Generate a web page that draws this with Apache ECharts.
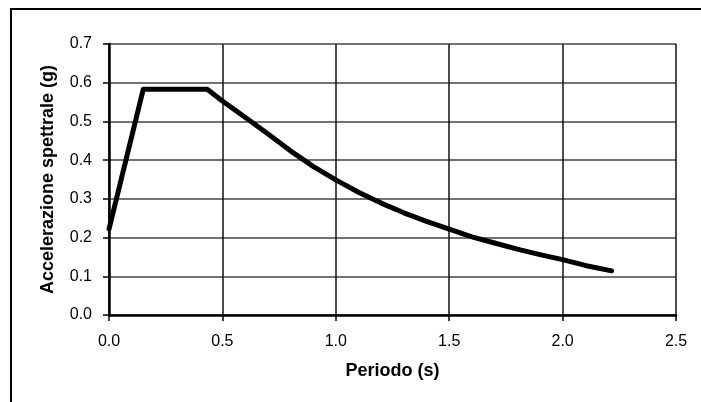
<!DOCTYPE html>
<html>
<head>
<meta charset="utf-8">
<script src="https://cdn.jsdelivr.net/npm/echarts@6/dist/echarts.min.js"></script>
<style>
html,body{margin:0;padding:0;background:#fff;}
#chart{width:701px;height:402px;}
</style>
</head>
<body>
<div id="chart"></div>
<script>
// Period (s)
var periods = [0.0, 0.151, 0.433, 0.5, 0.6, 0.7, 0.8, 0.9, 1.0, 1.1, 1.2, 1.3, 1.4, 1.5, 1.6, 1.7, 1.8, 1.9, 2.0, 2.1, 2.216];
// Spectral acceleration (g)
var accel = [0.222, 0.583, 0.583, 0.553, 0.511, 0.468, 0.424, 0.384, 0.349, 0.317, 0.289, 0.264, 0.242, 0.222, 0.202, 0.186, 0.170, 0.156, 0.143, 0.128, 0.114];
var xTicks = [0.0, 0.5, 1.0, 1.5, 2.0, 2.5];
var yTicks = [0.0, 0.1, 0.2, 0.3, 0.4, 0.5, 0.6, 0.7];
var xTitle = 'Periodo (s)';
var yTitle = 'Accelerazione spettrale (g)';

var seriesData = periods.map(function (t, i) { return [t, accel[i]]; });
var font = '"Liberation Sans", Arial, sans-serif';

var chart = echarts.init(document.getElementById('chart'), null, {renderer: 'canvas'});
chart.setOption({
  animation: false,
  backgroundColor: '#ffffff',
  grid: {left: 109, top: 44, width: 567, height: 271, containLabel: false},
  graphic: [{
    type: 'rect',
    shape: {x: 11, y: 9, width: 720, height: 420},
    style: {fill: 'none', stroke: '#000', lineWidth: 2}
  }],
  xAxis: {
    type: 'value',
    min: xTicks[0], max: xTicks[xTicks.length - 1], interval: 0.5,
    name: xTitle, nameLocation: 'middle', nameGap: 47,
    nameTextStyle: {fontFamily: font, fontSize: 18, fontWeight: 'bold', color: '#000'},
    axisLine: {show: true, onZero: false, lineStyle: {color: '#000', width: 2.5}},
    axisTick: {show: true, length: 6, lineStyle: {color: '#000', width: 1.5}},
    axisLabel: {fontFamily: font, fontSize: 16, color: '#000', margin: 19,
      formatter: function (v) { return v.toFixed(1); }},
    splitLine: {show: true, lineStyle: {color: '#111', width: 1.5}}
  },
  yAxis: {
    type: 'value',
    min: yTicks[0], max: yTicks[yTicks.length - 1], interval: 0.1,
    name: yTitle, nameLocation: 'middle', nameGap: 52,
    nameTextStyle: {fontFamily: font, fontSize: 18, fontWeight: 'bold', color: '#000'},
    axisLine: {show: true, lineStyle: {color: '#000', width: 2.5}},
    axisTick: {show: true, length: 6, lineStyle: {color: '#000', width: 1.5}},
    axisLabel: {fontFamily: font, fontSize: 16, color: '#000', margin: 17,
      formatter: function (v) { return v.toFixed(1); }},
    splitLine: {show: true, lineStyle: {color: '#444', width: 1.5}}
  },
  series: [{
    type: 'line',
    data: seriesData,
    smooth: false,
    showSymbol: false,
    lineStyle: {color: '#000', width: 5, cap: 'round', join: 'round'},
    z: 5
  }]
});
</script>
</body>
</html>
